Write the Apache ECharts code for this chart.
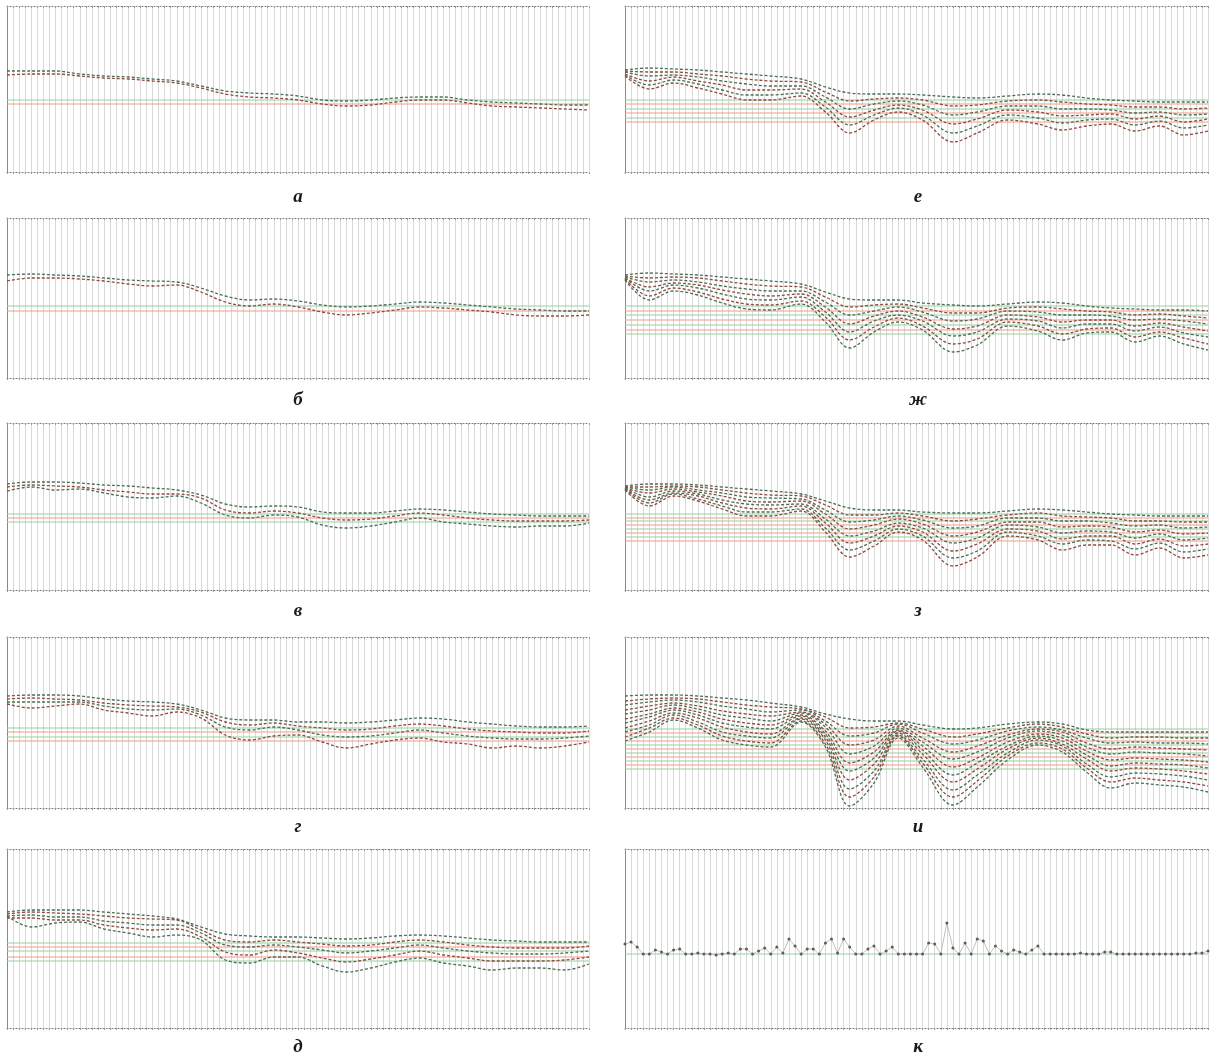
<!DOCTYPE html>
<html>
<head>
<meta charset="utf-8">
<title>Кривые</title>
<script src="https://cdn.jsdelivr.net/npm/echarts@6.0.0/dist/echarts.min.js"></script>
<style>
html, body { margin: 0; padding: 0; background: #fff; }
#chart { width: 1215px; height: 1058px; }
</style>
</head>
<body>
<div id="chart"></div>
<script>
// sample positions (grid units, 96 divisions per panel)
const xsL = [0, 4, 8, 12, 16, 20, 24, 28, 32, 36, 40, 44, 48, 52, 56, 60, 64, 68, 72, 76, 80, 84, 88, 92, 96];
const xsR = [0, 4, 8, 12, 16, 20, 24, 29, 33, 37, 41, 45, 49, 54, 58, 63, 68, 72, 76, 80, 84, 88, 92, 96];

// а
const a1 = [71,71,71,74,76,77,79,81,86,91,93,94,96,100,101,100,98,97,97,100,102,103,104,105,105];
const a2 = [75,74,74,76,78,79,81,83,88,94,97,98,100,104,106,105,102,100,100,103,106,107,108,109,110];
const levelsA = [100, 104];

// б
const b1 = [275,274,275,276,278,280,281,282,288,296,300,299,301,305,307,306,304,302,303,305,307,309,310,311,311];
const b2 = [281,278,278,279,281,284,286,285,292,302,306,304,307,312,315,313,310,307,308,310,312,315,316,316,315];
const levelsB = [306, 311];

// в
const v1 = [484,482,482,483,485,486,488,490,495,504,507,506,507,512,513,513,511,509,510,512,514,515,516,516,516];
const v2 = [487,485,486,487,490,492,494,494,498,510,513,511,513,518,520,519,516,513,515,518,520,521,521,521,520];
const v3 = [491,487,490,489,493,497,498,496,503,515,518,515,517,525,528,526,522,518,522,524,526,527,526,526,523];
const levelsV = [514, 518, 522];

// г
const g1 = [696,695,695,696,699,701,702,704,710,718,720,720,722,722,723,722,720,718,719,722,724,726,727,727,726];
const g2 = [699,698,699,700,703,705,706,707,712,722,725,723,726,728,730,729,726,724,726,729,731,732,733,733,731];
const g3 = [702,702,702,702,706,709,710,709,715,727,730,727,730,735,737,736,733,730,733,736,738,739,739,738,736];
const g4 = [704,708,706,704,710,713,716,712,718,735,740,736,735,742,748,744,740,738,742,744,748,746,748,746,742];
const levelsG = [728, 732, 737, 741];

// д
const d1 = [912,910,910,910,912,914,916,919,927,934,936,937,937,938,939,938,936,935,936,938,940,941,942,942,942];
const d2 = [914,912,913,914,916,918,919,920,930,940,942,940,942,944,946,945,942,940,942,945,947,948,948,948,946];
const d3 = [916,915,917,917,921,923,925,925,933,945,947,945,947,950,953,951,948,945,948,951,953,954,954,953,951];
const d4 = [918,918,920,920,925,928,930,929,937,952,955,950,953,958,962,959,955,951,955,958,961,961,961,960,957];
const d5 = [916,927,923,922,929,933,937,935,940,960,963,957,957,966,972,968,962,958,963,966,970,968,968,970,964];
const levelsD = [943, 947, 951, 957, 961];

// е
const e1 = [70,68,69,70,72,74,76,79,87,93,94,94,95,97,98,96,94,95,98,100,101,102,102,102];
const e2 = [71,72,72,74,76,79,81,82,92,101,99,98,100,106,105,101,100,102,104,105,107,107,109,108];
const e3 = [72,76,75,77,81,84,86,86,97,109,104,101,105,115,112,106,106,109,109,110,113,112,115,114];
const e4 = [74,81,77,81,85,90,90,89,102,117,110,105,110,124,119,110,112,116,115,114,119,116,122,119];
const e5 = [75,85,80,84,90,95,95,93,107,125,115,108,115,133,126,115,118,123,120,119,125,121,128,125];
const e6 = [76,89,83,88,94,100,100,96,112,133,120,112,120,142,133,120,124,130,126,124,131,126,135,131];
const levelsE = [100, 104, 109, 113, 118, 122];

// ж
const j1 = [275,273,274,275,277,279,281,284,292,299,300,300,303,305,306,304,302,303,306,308,309,310,310,311];
const j2 = [276,278,277,278,281,284,286,287,297,307,305,304,308,313,313,308,307,309,311,312,315,314,316,318];
const j3 = [277,282,280,282,286,289,291,291,302,315,311,307,312,321,319,311,312,315,315,316,320,319,321,324];
const j4 = [278,287,283,285,290,294,296,294,307,324,316,311,317,329,326,315,317,322,320,320,326,323,327,331];
const j5 = [278,291,285,288,294,299,300,297,312,332,321,315,321,336,332,319,321,328,324,324,331,327,333,337];
const j6 = [279,296,288,292,299,304,305,301,317,340,327,318,326,344,339,322,326,334,329,328,337,332,338,344];
const j7 = [280,300,291,295,303,309,310,304,322,348,332,322,330,352,345,326,331,340,333,332,342,336,344,350];
const levelsJ = [306, 311, 315, 320, 325, 330, 334];

// з
const z1 = [486,484,484,485,487,489,491,494,501,508,510,510,512,513,513,511,509,510,512,514,515,516,516,516];
const z2 = [487,487,486,487,490,493,495,496,505,515,515,513,516,521,519,515,513,516,517,518,521,521,522,522];
const z3 = [487,490,487,490,493,497,498,499,510,522,520,516,520,528,526,518,518,521,521,523,526,525,528,527];
const z4 = [488,493,489,492,496,501,502,501,514,529,525,519,524,536,532,522,522,527,526,527,532,530,534,533];
const z5 = [488,497,491,494,500,504,505,504,519,536,531,523,528,543,538,525,527,533,531,532,538,534,540,538];
const z6 = [489,500,493,496,503,508,509,506,523,543,536,526,532,551,544,529,531,539,536,536,544,539,546,544];
const z7 = [489,503,494,499,506,512,512,509,528,550,541,529,536,558,551,532,536,544,540,541,549,543,552,549];
const z8 = [490,506,496,501,509,516,516,511,532,557,546,532,540,566,557,536,540,550,545,545,555,548,558,555];
const levelsZ = [514, 518, 521, 525, 529, 533, 537, 541];

// и
const i1 = [696,695,695,696,698,700,703,707,714,719,721,721,725,729,728,724,722,724,730,732,732,732,732,732];
const i2 = [701,699,698,699,702,705,707,709,717,728,727,723,729,737,734,728,724,727,734,738,737,737,738,738];
const i3 = [705,702,700,702,706,709,712,710,721,736,733,724,733,744,740,731,727,730,738,743,742,743,743,744];
const i4 = [710,706,703,706,711,714,716,712,724,745,740,726,738,752,746,735,729,732,743,749,747,748,749,750];
const i5 = [714,710,705,709,715,718,721,713,727,754,746,728,742,759,752,738,731,735,747,754,752,753,754,756];
const i6 = [719,714,708,712,719,723,725,715,731,763,752,730,746,767,758,742,734,738,751,760,758,759,760,762];
const i7 = [723,717,710,715,723,727,729,716,734,771,758,731,750,775,763,746,736,741,755,766,763,764,765,768];
const i8 = [728,721,713,718,727,732,734,718,737,780,764,733,754,782,769,749,738,744,759,771,768,769,771,774];
const i9 = [732,725,715,722,732,736,738,719,740,789,771,735,759,790,775,753,740,746,764,777,773,774,776,780];
const i10 = [737,728,718,725,736,741,743,721,744,797,777,736,763,797,781,756,743,749,768,782,778,780,782,786];
const i11 = [741,732,720,728,740,745,747,722,747,806,783,738,767,805,787,760,745,752,772,788,783,785,787,792];
const levelsI = [729, 733, 737, 741, 745, 749, 753, 757, 761, 765, 769];

// к (one value per grid division)
const k1 = [
  944,942,947,954,954,950,952,954,950,949,
  954,954,953,954,954,955,954,953,954,949,
  949,954,951,948,954,947,953,939,946,954,
  949,949,954,943,939,953,939,947,954,954,
  949,946,954,951,947,954,954,954,954,954,
  943,944,954,923,948,954,943,954,939,941,
  954,946,951,954,950,952,954,950,946,954,
  954,954,954,954,954,953,954,954,954,952,
  952,954,954,954,954,954,954,954,954,954,
  954,954,954,954,953,953,951
];
const levelsK = [954];

// layout
const colLeft = [7, 625];
const colWidth = [582, 583];
const rowTop = [6, 218, 423, 637, 849];
const rowBottom = [172, 378, 590, 808, 1028];
const labelX = [298, 918];
const labelY = [197, 400, 611, 827, 1047];

const curveGreen = '#4a6e54';
const curveRed = '#8e4a3b';
const levelGreen = '#98cfa1';
const levelRed = '#f29c88';

const panels = [
  { label: 'а', col: 0, row: 0, xs: xsL, curves: [a1, a2], levels: levelsA },
  { label: 'б', col: 0, row: 1, xs: xsL, curves: [b1, b2], levels: levelsB },
  { label: 'в', col: 0, row: 2, xs: xsL, curves: [v1, v2, v3], levels: levelsV },
  { label: 'г', col: 0, row: 3, xs: xsL, curves: [g1, g2, g3, g4], levels: levelsG },
  { label: 'д', col: 0, row: 4, xs: xsL, curves: [d1, d2, d3, d4, d5], levels: levelsD },
  { label: 'е', col: 1, row: 0, xs: xsR, curves: [e1, e2, e3, e4, e5, e6], levels: levelsE },
  { label: 'ж', col: 1, row: 1, xs: xsR, curves: [j1, j2, j3, j4, j5, j6, j7], levels: levelsJ },
  { label: 'з', col: 1, row: 2, xs: xsR, curves: [z1, z2, z3, z4, z5, z6, z7, z8], levels: levelsZ },
  { label: 'и', col: 1, row: 3, xs: xsR, curves: [i1, i2, i3, i4, i5, i6, i7, i8, i9, i10, i11], levels: levelsI },
  { label: 'к', col: 1, row: 4, xs: null, curves: [k1], levels: levelsK, dots: true }
];

var chartDom = document.getElementById('chart');
var myChart = echarts.init(chartDom, null, { renderer: 'canvas' });

var grids = [], xAxes = [], yAxes = [], series = [], graphics = [];

panels.forEach(function (p, n) {
  var top = rowTop[p.row], bottom = rowBottom[p.row];
  grids.push({ left: colLeft[p.col], top: top, width: colWidth[p.col], height: bottom - top });

  // bottom axis carries the vertical grid lines
  xAxes.push({
    gridIndex: n, type: 'value', min: 0, max: 96, interval: 1, position: 'bottom',
    axisLine: { show: true, onZero: false, lineStyle: { color: '#777', width: 1, type: [1, 2] } },
    axisTick: { show: true, length: 2, lineStyle: { color: '#999' } },
    axisLabel: { show: false },
    splitLine: { show: true, lineStyle: { color: '#d9d9d9', width: 1 } }
  });
  // top border
  xAxes.push({
    gridIndex: n, type: 'value', min: 0, max: 96, interval: 1, position: 'top',
    axisLine: { show: true, onZero: false, lineStyle: { color: '#777', width: 1, type: [1, 2] } },
    axisTick: { show: true, length: 2, inside: true, lineStyle: { color: '#999' } },
    axisLabel: { show: false },
    splitLine: { show: false }
  });
  yAxes.push({
    gridIndex: n, type: 'value', min: top, max: bottom, inverse: true,
    axisLine: { show: true, onZero: false, lineStyle: { color: '#8a8a8a', width: 1 } },
    axisTick: { show: false },
    axisLabel: { show: false },
    splitLine: { show: false }
  });

  // horizontal levels, alternating green / red
  p.levels.forEach(function (v, j) {
    series.push({
      type: 'line', xAxisIndex: 2 * n, yAxisIndex: n, z: 1, silent: true,
      data: [[0, v], [96, v]], symbol: 'none',
      lineStyle: { color: j % 2 ? levelRed : levelGreen, width: 1.2, type: 'solid' }
    });
  });

  if (p.dots) {
    series.push({
      type: 'line', xAxisIndex: 2 * n, yAxisIndex: n, z: 3, silent: true,
      data: p.curves[0].map(function (v, i) { return [i, v]; }),
      symbol: 'circle', symbolSize: 3, showSymbol: true,
      itemStyle: { color: '#5c5c5c' },
      lineStyle: { color: '#b0b0b0', width: 0.8 }
    });
  } else {
    p.curves.forEach(function (c, j) {
      series.push({
        type: 'line', xAxisIndex: 2 * n, yAxisIndex: n, z: 3, silent: true,
        data: c.map(function (v, i) { return [p.xs[i], v]; }),
        smooth: 0.35, symbol: 'none',
        lineStyle: { color: j % 2 ? curveRed : curveGreen, width: 1.3, type: [3, 2] }
      });
    });
  }

  graphics.push({
    type: 'text', x: labelX[p.col], y: labelY[p.row],
    style: {
      text: p.label, fill: '#1a1a1a',
      font: 'italic bold 19px "Liberation Serif", "DejaVu Serif", serif',
      textAlign: 'center', textVerticalAlign: 'middle'
    }
  });
});

var option = {
  animation: false,
  backgroundColor: '#ffffff',
  grid: grids,
  xAxis: xAxes,
  yAxis: yAxes,
  series: series,
  graphic: graphics
};

option && myChart.setOption(option);
</script>
</body>
</html>
